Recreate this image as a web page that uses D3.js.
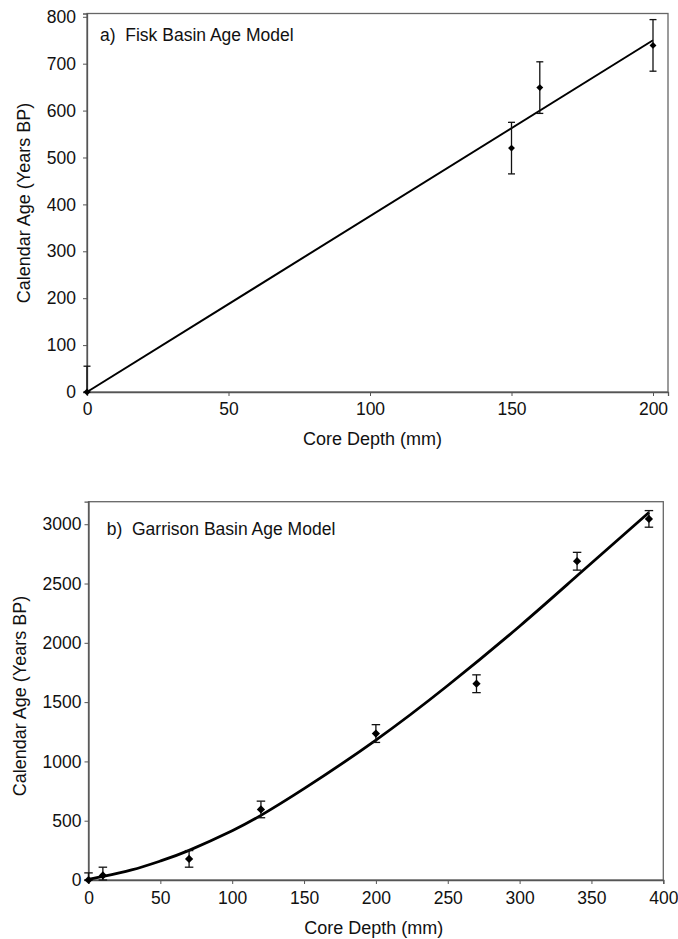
<!DOCTYPE html>
<html lang="en">
<head>
  <meta charset="UTF-8">
  <title>Fisk and Garrison Basin Age Models</title>
  <script src="https://d3js.org/d3.v7.min.js"></script>
  <style>
    body { margin: 0; background: #fff; }
    text {
      font-family: 'Liberation Sans', Arial, Helvetica, sans-serif;
      fill: #111;
    }
    .tick text { font-size: 17.5px; fill: #111; }
    .tick line, .domain { stroke: #555; }
    .axis-title { font-size: 18px; }
    .panel-title { font-size: 17.5px; white-space: pre; }
  </style>
</head>
<body>
  <svg width="678" height="939"></svg>

  <script>
    // ---- data ----
    // a) Fisk Basin
    const fiskDepth = [0, 150, 160, 200];
    const fiskAge = [0, 520, 649, 739];
    const fiskErr = [55, 55, 55, 55];
    const fiskLineDepth = [0, 200];
    const fiskLineAge = [0, 750];
    const fiskXTicks = [0, 50, 100, 150, 200];
    const fiskYTicks = [0, 100, 200, 300, 400, 500, 600, 700, 800];

    // b) Garrison Basin
    const garrDepth = [0, 10, 70, 120, 200, 270, 340, 390];
    const garrAge = [0, 38, 178, 595, 1235, 1655, 2688, 3045];
    const garrErr = [60, 70, 70, 70, 75, 75, 75, 70];
    const garrCurveDepth = [0, 10, 30, 50, 70, 100, 120, 150, 200, 250, 300, 340, 390];
    const garrCurveAge = [5, 30, 85, 160, 250, 415, 545, 770, 1180, 1640, 2140, 2565, 3099];
    const garrXTicks = [0, 50, 100, 150, 200, 250, 300, 350, 400];
    const garrYTicks = [0, 500, 1000, 1500, 2000, 2500, 3000];

    const svg = d3.select("svg");

    function drawPanel(p) {
      const x = d3.scaleLinear().domain(p.xDomain).range([p.left, p.right]);
      const y = d3.scaleLinear().domain(p.yDomain).range([p.bottom, p.top]).clamp(true);

      // frame
      svg.append("rect")
        .attr("x", p.left).attr("y", p.top)
        .attr("width", p.right - p.left).attr("height", p.bottom - p.top)
        .attr("fill", "none").attr("stroke", "#666").attr("stroke-width", 1.3);

      // axes
      const gx = svg.append("g")
        .attr("transform", `translate(0,${p.bottom})`)
        .call(d3.axisBottom(x).tickValues(p.xTicks).tickSize(4).tickPadding(p.xPad).tickFormat(d3.format("d")));
      const gy = svg.append("g")
        .attr("transform", `translate(${p.left},0)`)
        .call(d3.axisLeft(y).tickValues(p.yTicks).tickSize(4).tickPadding(p.yPad).tickFormat(d3.format("d")));
      gx.select(".domain").attr("stroke-width", 1.3);
      gy.select(".domain").attr("stroke-width", 1.3);

      // fit line / curve
      const fit = p.lineX.map((d, i) => ({ x: d, y: p.lineY[i] }));
      svg.append("path")
        .datum(fit)
        .attr("fill", "none")
        .attr("stroke", "#000")
        .attr("stroke-width", p.lineWidth)
        .attr("d", d3.line().x(d => x(d.x)).y(d => y(d.y)).curve(d3.curveNatural));

      // points with error bars
      const pts = p.px.map((d, i) => ({ x: d, y: p.py[i], e: p.pe[i] }));
      const eb = svg.append("g").attr("stroke", "#111").attr("stroke-width", 1.3);
      const cw = p.capWidth / 2;
      pts.forEach(d => {
        const cx = x(d.x), y0 = y(d.y - d.e), y1 = y(d.y + d.e);
        eb.append("line").attr("x1", cx).attr("x2", cx).attr("y1", y0).attr("y2", y1);
        eb.append("line").attr("x1", cx - cw).attr("x2", cx + cw).attr("y1", y1).attr("y2", y1);
        eb.append("line").attr("x1", cx - cw).attr("x2", cx + cw).attr("y1", y0).attr("y2", y0);
      });
      svg.append("g").selectAll("path")
        .data(pts)
        .join("path")
        .attr("d", d3.symbol(d3.symbolSquare, p.markerSize))
        .attr("transform", d => `translate(${x(d.x)},${y(d.y)}) rotate(45)`)
        .attr("fill", "#000");

      // texts
      svg.append("text")
        .attr("class", "panel-title")
        .attr("x", p.titleX).attr("y", p.titleY).attr("dy", "0.35em")
        .text(p.title);
      svg.append("text")
        .attr("class", "axis-title")
        .attr("x", p.xTitleX).attr("y", p.xTitleY).attr("dy", "0.35em")
        .attr("text-anchor", "middle")
        .text("Core Depth (mm)");
      svg.append("text")
        .attr("class", "axis-title")
        .attr("transform", `translate(${p.yTitleX},${p.yTitleY}) rotate(-90)`)
        .attr("dy", "0.35em")
        .attr("text-anchor", "middle")
        .text("Calendar Age (Years BP)");
    }

    drawPanel({
      left: 87, right: 668, top: 13.5, bottom: 392,
      xDomain: [0, 205.3], yDomain: [0, 807],
      xTicks: fiskXTicks, yTicks: fiskYTicks, xPad: 7, yPad: 7,
      lineX: fiskLineDepth, lineY: fiskLineAge, lineWidth: 2,
      px: fiskDepth, py: fiskAge, pe: fiskErr,
      capWidth: 7, markerSize: 24,
      title: "a)  Fisk Basin Age Model", titleX: 100, titleY: 35,
      xTitleX: 372.5, xTitleY: 439, yTitleX: 24, yTitleY: 203
    });

    drawPanel({
      left: 88.5, right: 663.3, top: 501.7, bottom: 880,
      xDomain: [0, 400], yDomain: [0, 3190],
      xTicks: garrXTicks, yTicks: garrYTicks, xPad: 8, yPad: 3,
      lineX: garrCurveDepth, lineY: garrCurveAge, lineWidth: 2.8,
      px: garrDepth, py: garrAge, pe: garrErr,
      capWidth: 8.5, markerSize: 34,
      title: "b)  Garrison Basin Age Model", titleX: 106.7, titleY: 529.3,
      xTitleX: 373.7, xTitleY: 927.7, yTitleX: 20, yTitleY: 696
    });
  </script>
</body>
</html>
